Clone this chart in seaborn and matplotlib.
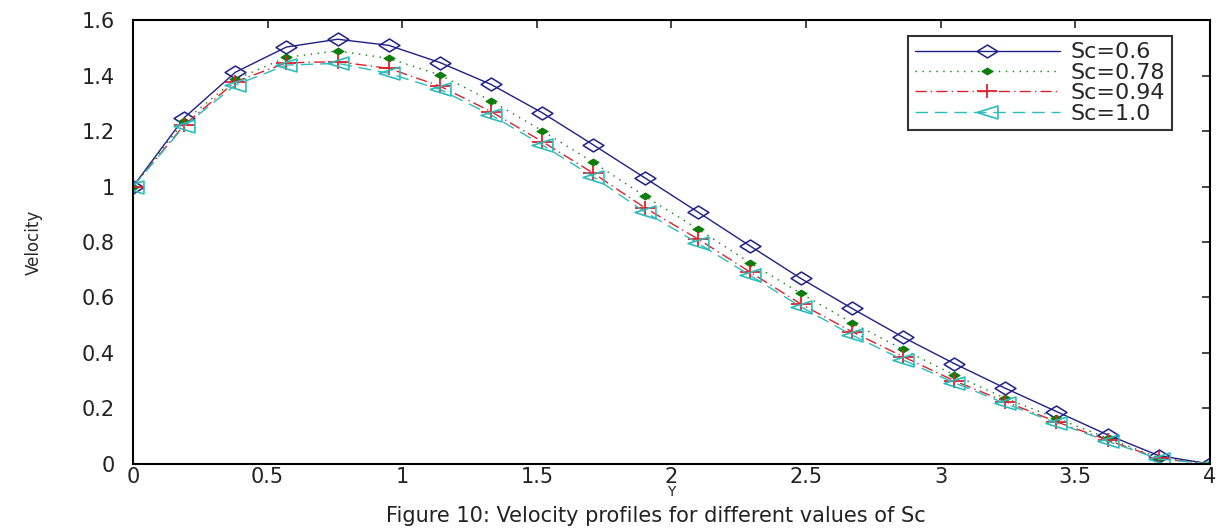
import numpy as np
import pandas as pd
import matplotlib
matplotlib.use("Agg")
import matplotlib.pyplot as plt
from matplotlib.path import Path
from matplotlib.ticker import FuncFormatter
import seaborn as sns

# Distance from the plate
y_pos = [0, 0.19, 0.38, 0.57, 0.76, 0.95, 1.14, 1.33, 1.52, 1.71, 1.90,
         2.10, 2.29, 2.48, 2.67, 2.86, 3.05, 3.24, 3.43, 3.62, 3.81, 4.00]

# Velocity profiles for each Schmidt number
vel_sc06 = [1.0, 1.248, 1.412, 1.503, 1.531, 1.509, 1.447, 1.368, 1.266, 1.150, 1.032,
            0.907, 0.787, 0.669, 0.561, 0.457, 0.362, 0.273, 0.189, 0.105, 0.030, 0.0]
vel_sc078 = [1.0, 1.236, 1.386, 1.466, 1.489, 1.462, 1.402, 1.309, 1.201, 1.087, 0.966,
             0.846, 0.726, 0.615, 0.509, 0.413, 0.321, 0.237, 0.165, 0.093, 0.022, 0.0]
vel_sc094 = [1.0, 1.222, 1.378, 1.446, 1.450, 1.426, 1.362, 1.270, 1.162, 1.048, 0.924,
             0.810, 0.693, 0.577, 0.477, 0.387, 0.300, 0.225, 0.152, 0.086, 0.020, 0.0]
vel_sc10 = [1.0, 1.218, 1.366, 1.438, 1.444, 1.408, 1.350, 1.258, 1.150, 1.035, 0.909,
            0.795, 0.681, 0.567, 0.465, 0.375, 0.293, 0.218, 0.148, 0.082, 0.018, 0.0]

labels = ["Sc=0.6", "Sc=0.78", "Sc=0.94", "Sc=1.0"]
x_ticks = [0, 0.5, 1, 1.5, 2, 2.5, 3, 3.5, 4]
y_ticks = [0, 0.2, 0.4, 0.6, 0.8, 1.0, 1.2, 1.4, 1.6]

sns.set_style("white")
plt.rcParams["font.family"] = ["DejaVu Sans"]

# Wide marker shapes
wide_diamond = Path([(-1, 0), (0, 0.62), (1, 0), (0, -0.62), (-1, 0)],
                    [Path.MOVETO, Path.LINETO, Path.LINETO, Path.LINETO, Path.CLOSEPOLY])
wide_tri_left = Path([(-1, 0), (1, 0.62), (1, -0.62), (-1, 0)],
                     [Path.MOVETO, Path.LINETO, Path.LINETO, Path.CLOSEPOLY])
wide_plus = Path([(-1, 0), (1, 0), (0, -0.7), (0, 0.7)],
                 [Path.MOVETO, Path.LINETO, Path.MOVETO, Path.LINETO])

styles = [
    dict(color="#1f1f8a", linestyle="-", marker=wide_diamond, markersize=15,
         markerfacecolor="none", markeredgecolor="#1f1f8a", markeredgewidth=1.1),
    dict(color="#0b7d0b", linestyle=(0, (1, 4)), marker=wide_diamond, markersize=8,
         markerfacecolor="#0b7d0b", markeredgecolor="#0b7d0b"),
    dict(color="#e0202a", linestyle=(0, (8, 3, 1, 3)), marker=wide_plus, markersize=15,
         markeredgecolor="#e0202a", markeredgewidth=1.3),
    dict(color="#2bbcbc", linestyle=(0, (9, 5)), marker=wide_tri_left, markersize=15,
         markerfacecolor="none", markeredgecolor="#2bbcbc", markeredgewidth=1.2),
]

series = [vel_sc06, vel_sc078, vel_sc094, vel_sc10]

fig = plt.figure(figsize=(12.32, 5.29), dpi=100)
ax = fig.add_axes([0.108, 0.123, 0.874, 0.839])

for vals, lab, st in zip(series, labels, styles):
    df = pd.DataFrame({"Y": y_pos, "Velocity": vals})
    sns.lineplot(data=df, x="Y", y="Velocity", ax=ax, label=lab, linewidth=1.0,
                 sort=False, **st)

ax.set_xlim(0, 4)
ax.set_ylim(0, 1.6)
ax.set_xticks(x_ticks)
ax.set_yticks(y_ticks)
fmt = FuncFormatter(lambda v, p: f"{v:g}")
ax.xaxis.set_major_formatter(fmt)
ax.yaxis.set_major_formatter(fmt)
ax.tick_params(direction="in", length=6, width=1.2, top=True, right=True,
               labelsize=15, labelcolor="#222222")
ax.tick_params(axis="y", pad=13)
ax.tick_params(axis="x", pad=2)
for sp in ax.spines.values():
    sp.set_visible(True)
    sp.set_color("black")
    sp.set_linewidth(1.5)

ax.set_xlabel("Y", fontsize=10, labelpad=-1)
ax.set_ylabel("Velocity", fontsize=12, labelpad=28)

leg = ax.legend(loc="upper right", bbox_to_anchor=(0.975, 0.99), fontsize=16,
                handlelength=6.5, labelspacing=0.02, borderpad=0.3,
                handletextpad=0.5, frameon=True, fancybox=False)
leg.get_frame().set_edgecolor("black")
leg.get_frame().set_linewidth(1.5)

fig.text(0.532, 0.024, "Figure 10: Velocity profiles for different values of Sc",
         ha="center", va="center", fontsize=15, color="#222222")

fig.savefig("out.png", dpi=100, facecolor="white")
